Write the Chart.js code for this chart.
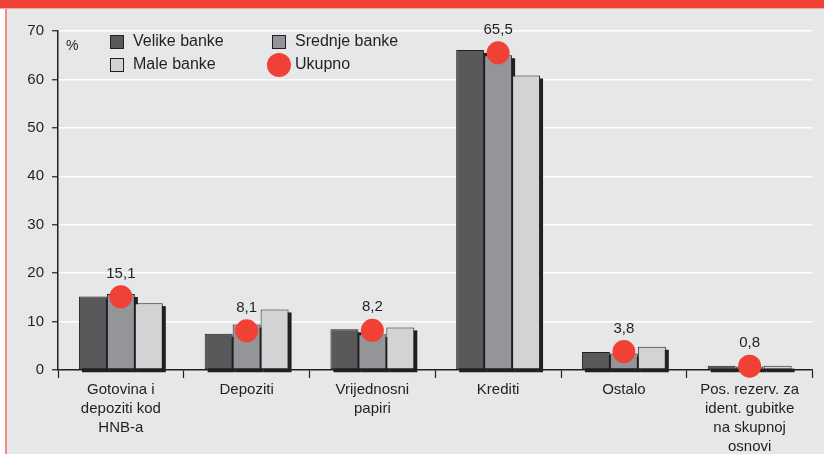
<!DOCTYPE html>
<html>
<head>
<meta charset="utf-8">
<script src="https://cdn.jsdelivr.net/npm/chart.js@4"></script>
<style>
  html, body { margin: 0; padding: 0; background: #fff; }
  #frame { position: absolute; left: 0; top: 0; width: 824px; height: 454px; background: #e6e7e9; overflow: hidden; }
  #topbar { position: absolute; left: 0; top: 0; width: 824px; height: 8px; background: #ef4136; border-bottom: 1px solid #f6a59d; }
  #leftwhite { position: absolute; left: 0; top: 9px; width: 5px; height: 445px; background: #fff; }
  #leftline { position: absolute; left: 5px; top: 9px; width: 2px; height: 445px; background: #f28b80; }
  #chart { position: absolute; left: 0; top: 0; }
</style>
</head>
<body>
<div id="frame">
  <div id="topbar"></div>
  <div id="leftwhite"></div>
  <div id="leftline"></div>
  <canvas id="chart" width="824" height="454"></canvas>
</div>
<script>
// kategorije i vrijednosti (%)
const categories = [
  ["Gotovina i", "depoziti kod", "HNB-a"],
  ["Depoziti"],
  ["Vrijednosni", "papiri"],
  ["Krediti"],
  ["Ostalo"],
  ["Pos. rezerv. za", "ident. gubitke", "na skupnoj", "osnovi"]
];
const velikeBanke  = [15.2, 7.5, 8.4, 66.1, 3.7, 0.9];
const srednjeBanke = [15.7, 9.4, 7.4, 65.0, 3.4, 0.7];
const maleBanke    = [13.8, 12.5, 8.8, 60.8, 4.8, 0.9];
const ukupno       = [15.1, 8.1, 8.2, 65.5, 3.8, 0.8];
const yTicks = [0, 10, 20, 30, 40, 50, 60, 70];

const INK = '#231f20';
const RED = '#ef4136';
const FONT = "'Liberation Sans', Arial, sans-serif";
Chart.defaults.font.family = FONT;
Chart.defaults.font.size = 15;
Chart.defaults.color = INK;

// sjena ispod stupaca (pomak desno i dolje)
const barShadow = {
  id: 'barShadow',
  beforeDatasetsDraw(chart) {
    const ctx = chart.ctx;
    ctx.save();
    ctx.fillStyle = INK;
    chart.data.datasets.forEach((ds, i) => {
      if (ds.type === 'line') return;
      chart.getDatasetMeta(i).data.forEach(bar => {
        const left = bar.x - bar.width / 2;
        ctx.fillRect(left + 3, bar.y + 3, bar.width, bar.base - bar.y);
      });
    });
    ctx.restore();
  }
};

// oznake vrijednosti iznad crvenih točaka + legenda + "%"
const extras = {
  id: 'extras',
  afterDraw(chart) {
    const ctx = chart.ctx;
    const area = chart.chartArea;
    ctx.save();
    ctx.fillStyle = INK;
    ctx.font = "15px " + FONT;
    ctx.textAlign = 'center';
    ctx.textBaseline = 'middle';
    const idx = chart.data.datasets.findIndex(d => d.type === 'line');
    chart.getDatasetMeta(idx).data.forEach((pt, i) => {
      ctx.fillText(ukupno[i].toFixed(1).replace('.', ','), pt.x, pt.y - 23);
    });

    ctx.font = "14px " + FONT;
    ctx.textAlign = 'left';
    ctx.fillText('%', area.left + 8, area.top + 15);

    // legenda u dva stupca
    ctx.font = "16px " + FONT;
    chart.data.datasets.forEach((ds, i) => {
      const x = area.left + 52 + (i % 2) * 162;
      const y = area.top + 11 + Math.floor(i / 2) * 23;
      ctx.fillStyle = ds.backgroundColor;
      if (ds.type === 'line') {
        ctx.beginPath();
        ctx.arc(x + 7, y, 12, 0, Math.PI * 2);
        ctx.fill();
      } else {
        ctx.fillRect(x, y - 7, 14, 14);
        ctx.strokeStyle = INK;
        ctx.lineWidth = 1;
        ctx.strokeRect(x + 0.5, y - 6.5, 13, 13);
      }
      ctx.fillStyle = INK;
      ctx.fillText(ds.label, x + 23, y);
    });
    ctx.restore();
  }
};

const barStyle = { borderColor: INK, borderWidth: 1, borderSkipped: false, categoryPercentage: 0.667, barPercentage: 1.0 };

new Chart(document.getElementById('chart'), {
  type: 'bar',
  data: {
    labels: categories,
    datasets: [
      Object.assign({ label: 'Velike banke',  data: velikeBanke,  backgroundColor: '#58595b' }, barStyle),
      Object.assign({ label: 'Srednje banke', data: srednjeBanke, backgroundColor: '#939598' }, barStyle),
      Object.assign({ label: 'Male banke',    data: maleBanke,    backgroundColor: '#d1d3d4' }, barStyle),
      {
        type: 'line',
        label: 'Ukupno',
        data: ukupno,
        showLine: false,
        clip: false,
        order: -1,
        backgroundColor: RED,
        borderColor: RED,
        pointRadius: 11.5,
        pointBorderWidth: 0,
        pointHoverRadius: 11.5
      }
    ]
  },
  options: {
    responsive: false,
    animation: false,
    devicePixelRatio: 1,
    layout: { padding: { left: 0, top: 31, right: 10, bottom: 0 } },
    plugins: { legend: { display: false }, tooltip: { enabled: false } },
    scales: {
      x: {
        offset: true,
        grid: { offset: true, drawOnChartArea: false, drawTicks: true, tickLength: 8, tickColor: INK, tickWidth: 1.2 },
        border: { color: INK, width: 1.5 },
        ticks: { padding: 2, color: INK, maxRotation: 0, autoSkip: false, font: { size: 15, lineHeight: 1.27 } },
        afterFit(scale) { scale.height = 84; }
      },
      y: {
        min: yTicks[0],
        max: yTicks[yTicks.length - 1],
        afterBuildTicks(scale) { scale.ticks = yTicks.map(v => ({ value: v })); },
        grid: {
          color: ctx => ctx.tick && ctx.tick.value === 0 ? 'rgba(0,0,0,0)' : '#ffffff',
          lineWidth: 1.5,
          tickColor: INK,
          tickLength: 6,
          tickWidth: 1.2
        },
        border: { color: INK, width: 1.5 },
        ticks: { padding: 8, color: INK, font: { size: 15 } },
        afterFit(scale) { scale.width = 58; }
      }
    }
  },
  plugins: [barShadow, extras]
});
</script>
</body>
</html>
